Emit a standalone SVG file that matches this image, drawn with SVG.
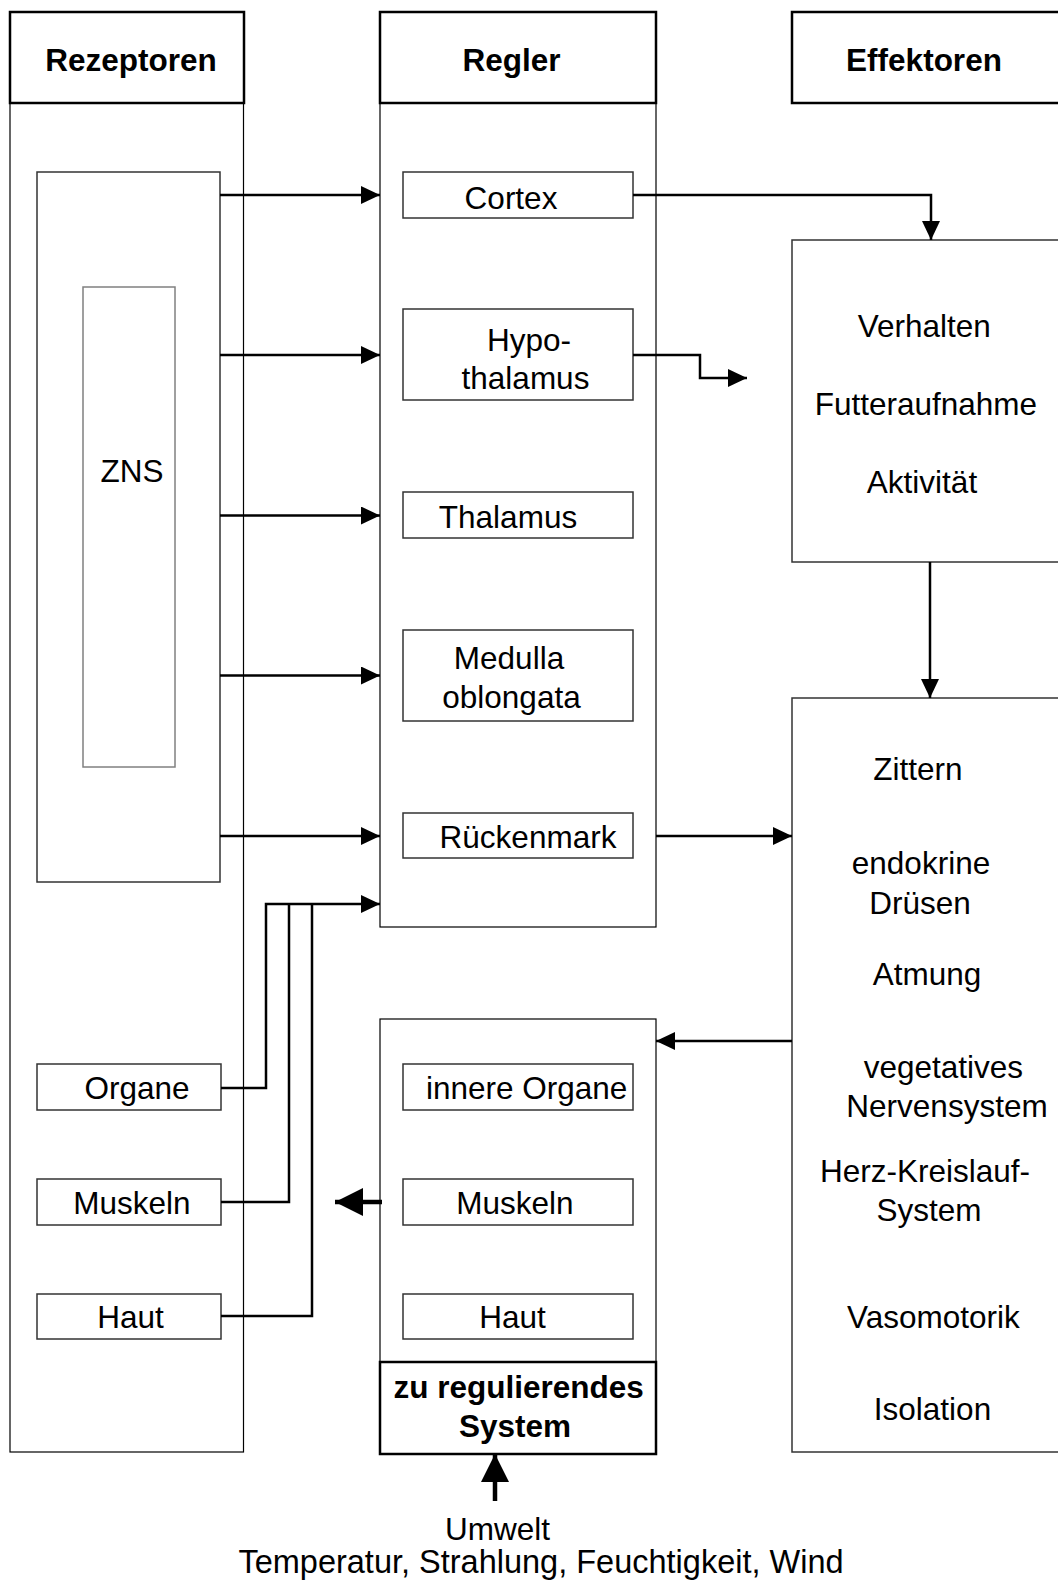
<svg xmlns="http://www.w3.org/2000/svg" width="1058" height="1582" viewBox="0 0 1058 1582">
<style>
text{font-family:"Liberation Sans",Arial,sans-serif;font-size:31.5px;fill:#000;text-anchor:middle}
.b{font-weight:bold}
.hdr{fill:#fff;stroke:#000;stroke-width:2.5}
.col{fill:none;stroke:#000;stroke-width:1.2}
.box{fill:#fff;stroke:#333;stroke-width:1.5}
.gbox{fill:#fff;stroke:#808080;stroke-width:1.5}
.c{fill:none;stroke:#000;stroke-width:2.5}
.t{fill:none;stroke:#000;stroke-width:4.5}
</style>
<defs>
<marker id="a" markerUnits="userSpaceOnUse" markerWidth="19" markerHeight="18" refX="19" refY="9" orient="auto"><path d="M0,0L19,9L0,18z" fill="#000"/></marker>
<marker id="A" markerUnits="userSpaceOnUse" markerWidth="28" markerHeight="28" refX="28" refY="14" orient="auto"><path d="M0,0L28,14L0,28z" fill="#000"/></marker>
</defs>
<rect width="1058" height="1582" fill="#fff"/>

<g id="col-rezeptoren">
<rect class="col" x="10" y="103" width="233.5" height="1349"/>
<rect class="hdr" x="10" y="12" width="234" height="91"/>
<text class="b" x="131" y="71">Rezeptoren</text>
</g>
<g id="col-regler">
<rect class="col" x="380" y="103" width="276" height="824"/>
<rect class="hdr" x="380" y="12" width="276" height="91"/>
<text class="b" x="511.5" y="71">Regler</text>
</g>
<g id="col-effektoren">
<rect class="hdr" x="792" y="12" width="270" height="91"/>
<text class="b" x="924" y="71">Effektoren</text>
</g>

<g id="zns-outer"><rect class="box" x="37" y="172" width="183" height="710"/></g>
<g id="zns"><rect class="gbox" x="83" y="287" width="92" height="480"/><text x="132" y="482">ZNS</text></g>

<g id="organe"><rect class="box" x="37" y="1064" width="184" height="46"/><text x="137" y="1099">Organe</text></g>
<g id="muskeln-r"><rect class="box" x="37" y="1179" width="184" height="46"/><text x="132" y="1214">Muskeln</text></g>
<g id="haut-r"><rect class="box" x="37" y="1294" width="184" height="45"/><text x="130.6" y="1328">Haut</text></g>

<g id="cortex"><rect class="box" x="403" y="172" width="230" height="46"/><text x="511" y="209">Cortex</text></g>
<g id="hypothalamus"><rect class="box" x="403" y="309" width="230" height="91"/><text x="529" y="351">Hypo-</text><text x="525.5" y="389">thalamus</text></g>
<g id="thalamus"><rect class="box" x="403" y="492" width="230" height="46"/><text x="508" y="528">Thalamus</text></g>
<g id="medulla"><rect class="box" x="403" y="630" width="230" height="91"/><text x="509" y="669">Medulla</text><text x="511.5" y="708">oblongata</text></g>
<g id="rueckenmark"><rect class="box" x="403" y="813" width="230" height="45"/><text x="528" y="848">Rückenmark</text></g>

<g id="system">
<rect class="col" x="380" y="1019" width="276" height="435"/>
<g id="innere-organe"><rect class="box" x="403" y="1064" width="230" height="46"/><text x="526.7" y="1099">innere Organe</text></g>
<g id="muskeln-s"><rect class="box" x="403" y="1179" width="230" height="46"/><text x="515" y="1214">Muskeln</text></g>
<g id="haut-s"><rect class="box" x="403" y="1294" width="230" height="45"/><text x="512.5" y="1328">Haut</text></g>
<rect class="hdr" x="380" y="1362" width="276" height="92"/>
<text class="b" x="518.7" y="1398">zu regulierendes</text>
<text class="b" x="515" y="1437">System</text>
</g>

<g id="verhalten">
<rect class="box" x="792" y="240" width="270" height="322" stroke="#000"/>
<text x="924.3" y="337">Verhalten</text>
<text x="925.9" y="415">Futteraufnahme</text>
<text x="922" y="493">Aktivität</text>
</g>
<g id="effektoren-vegetativ">
<rect class="box" x="792" y="698" width="270" height="754" stroke="#000"/>
<text x="918" y="780">Zittern</text>
<text x="921" y="874">endokrine</text>
<text x="920" y="914">Drüsen</text>
<text x="927" y="985">Atmung</text>
<text x="943.4" y="1078">vegetatives</text>
<text x="947" y="1117">Nervensystem</text>
<text x="925" y="1182">Herz-Kreislauf-</text>
<text x="929" y="1221">System</text>
<text x="933.4" y="1328">Vasomotorik</text>
<text x="932.5" y="1420">Isolation</text>
</g>

<g id="umwelt">
<text x="497.5" y="1540">Umwelt</text>
<text x="541" y="1573" style="font-size:32.5px">Temperatur, Strahlung, Feuchtigkeit, Wind</text>
</g>

<g id="connectors">
<path class="c" d="M220,195H380" marker-end="url(#a)"/>
<path class="c" d="M220,355H380" marker-end="url(#a)"/>
<path class="c" d="M220,515.5H380" marker-end="url(#a)"/>
<path class="c" d="M220,675.5H380" marker-end="url(#a)"/>
<path class="c" d="M220,836H380" marker-end="url(#a)"/>
<path class="c" d="M221,1088H266V904H380" marker-end="url(#a)"/>
<path class="c" d="M221,1202H289V904"/>
<path class="c" d="M221,1316H312V904"/>
<path class="c" d="M633,195H931V240" marker-end="url(#a)"/>
<path class="c" d="M633,355H700V378H747" marker-end="url(#a)"/>
<path class="c" d="M930,562V698" marker-end="url(#a)"/>
<path class="c" d="M656,836H792" marker-end="url(#a)"/>
<path class="c" d="M792,1041H656" marker-end="url(#a)"/>
<path class="t" d="M382,1202H335" marker-end="url(#A)"/>
<path class="t" d="M495,1501V1454" marker-end="url(#A)"/>
</g>
</svg>
